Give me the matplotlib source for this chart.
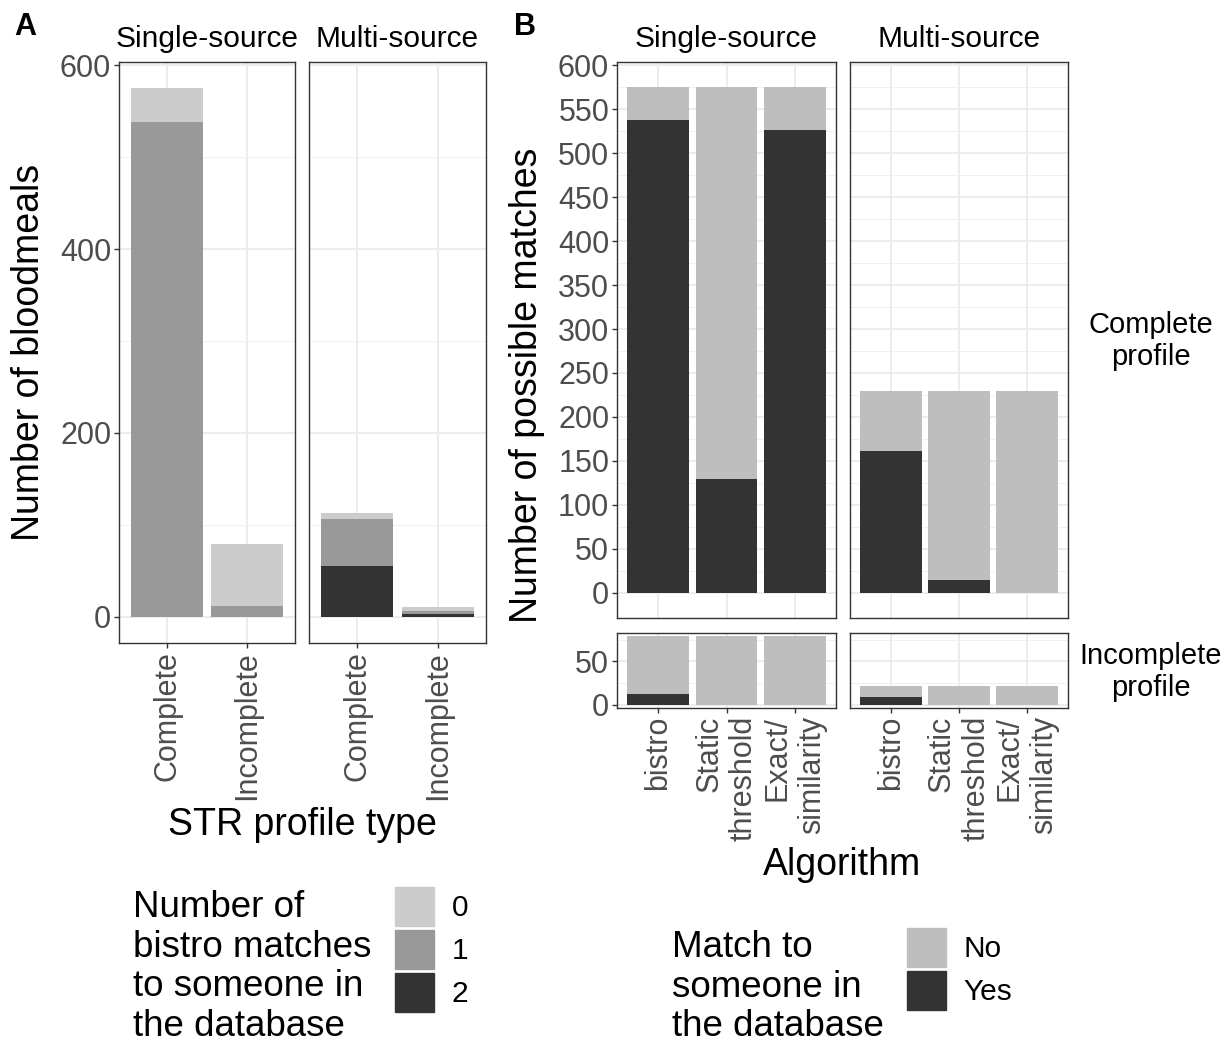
import numpy as np
import matplotlib
matplotlib.use("Agg")
import matplotlib.pyplot as plt
from matplotlib.patches import Patch

plt.rcParams['font.family'] = ['Liberation Sans', 'DejaVu Sans']

# ---- data: panel A (bloodmeals by STR profile type, stacked by no. of bistro matches)
sources = ["Single-source", "Multi-source"]
profile_types = ["Complete", "Incomplete"]
match_levels = ["0", "1", "2"]
single_counts = {"0": [37, 67], "1": [538, 12], "2": [0, 0]}
multi_counts = {"0": [7, 4], "1": [51, 3], "2": [55, 3]}

# ---- data: panel B (possible matches by algorithm)
algorithms = ["bistro", "Static\nthreshold", "Exact/\nsimilarity"]
rows = ["Complete\nprofile", "Incomplete\nprofile"]
single_complete_total = [575, 575, 575]
single_complete_yes = [538, 129, 526]
multi_complete_total = [229, 229, 229]
multi_complete_yes = [161, 15, 0]
single_incomplete_total = [79, 79, 79]
single_incomplete_yes = [12, 0, 0]
multi_incomplete_total = [22, 22, 22]
multi_incomplete_yes = [9, 0, 0]

colors_a = {"0": "#CCCCCC", "1": "#999999", "2": "#333333"}
col_no, col_yes = "#BEBEBE", "#333333"

W, H = 1232, 1043
fig = plt.figure(figsize=(W / 100, H / 100), dpi=100)


def px_axes(l, t, r, b):
    return fig.add_axes([l / W, 1 - b / H, (r - l) / W, (b - t) / H])


def style_panel(ax, n, ylim, major, minor, show_y=True, show_x=True, labels=None):
    ax.set_xlim(0.4, n + 0.6)
    ax.set_ylim(*ylim)
    ax.set_xticks(np.arange(1, n + 1))
    ax.set_yticks(major)
    ax.set_yticks(minor, minor=True)
    ax.grid(which="major", color="#EBEBEB", lw=1.3)
    ax.grid(which="minor", axis="y", color="#F0F0F0", lw=0.7)
    ax.set_axisbelow(True)
    for s in ax.spines.values():
        s.set_color("#333333")
        s.set_linewidth(1.0)
    ax.tick_params(which="major", direction="out", length=3.6, width=1.0,
                   color="#333333", labelcolor="#4D4D4D", labelsize=22, pad=2)
    ax.tick_params(which="minor", length=0)
    if not show_y:
        ax.tick_params(axis="y", left=False, labelleft=False)
    if show_x:
        ax.set_xticklabels(labels, rotation=90, ha="center", va="top",
                           multialignment="right", linespacing=1.2)
    else:
        ax.tick_params(axis="x", bottom=False, labelbottom=False)


# ---------------- Panel A ----------------
x_a = np.arange(1, len(profile_types) + 1)
a_boxes = [(119, 62, 295, 643), (309, 62, 486, 643)]
for i, (src, counts) in enumerate(zip(sources, [single_counts, multi_counts])):
    ax = px_axes(*a_boxes[i])
    bottom = np.zeros(len(profile_types))
    for lvl in ["2", "1", "0"]:
        vals = np.array(counts[lvl])
        ax.bar(x_a, vals, width=0.9, bottom=bottom, color=colors_a[lvl], linewidth=0)
        bottom += vals
    style_panel(ax, 2, (-28.75, 603.75), [0, 200, 400, 600], [100, 300, 500],
                show_y=(i == 0), labels=profile_types)
    fig.text((a_boxes[i][0] + a_boxes[i][2]) / 2 / W, 1 - 47 / H, src,
             ha="center", va="baseline", fontsize=21.5)

fig.text(29 / W, 1 - 352 / H, "Number of bloodmeals", rotation=90,
         ha="center", va="center", fontsize=27)
fig.text(302 / W, 1 - 835 / H, "STR profile type", ha="center", va="baseline",
         fontsize=27)
fig.text(14 / W, 1 - 35 / H, "A", ha="left", va="baseline", fontsize=22,
         fontweight="bold")

# ---------------- Panel B ----------------
x_b = np.arange(1, len(algorithms) + 1)
b_panels = [
    ((617, 62, 836, 618), single_complete_total, single_complete_yes, (-28.75, 603.75), True, False),
    ((850, 62, 1068, 618), multi_complete_total, multi_complete_yes, (-28.75, 603.75), False, False),
    ((617, 633, 836, 708), single_incomplete_total, single_incomplete_yes, (-3.95, 82.95), True, True),
    ((850, 633, 1068, 708), multi_incomplete_total, multi_incomplete_yes, (-3.95, 82.95), False, True),
]
for box, total, yes, ylim, show_y, show_x in b_panels:
    ax = px_axes(*box)
    yes = np.array(yes)
    no = np.array(total) - yes
    ax.bar(x_b, yes, width=0.9, color=col_yes, linewidth=0)
    ax.bar(x_b, no, width=0.9, bottom=yes, color=col_no, linewidth=0)
    if ylim[1] > 100:
        major = np.arange(0, 601, 50)
        minor = np.arange(25, 601, 50)
    else:
        major = [0, 50]
        minor = [25, 75]
    style_panel(ax, 3, ylim, major, minor, show_y=show_y, show_x=show_x,
                labels=algorithms)

for box, src in zip([(617, 836), (850, 1068)], sources):
    fig.text((box[0] + box[1]) / 2 / W, 1 - 47 / H, src, ha="center",
             va="baseline", fontsize=21.5)
fig.text(1151 / W, 1 - 341 / H, rows[0], ha="center", va="center",
         fontsize=21, linespacing=1.15)
fig.text(1151 / W, 1 - 672 / H, rows[1], ha="center", va="center",
         fontsize=21, linespacing=1.15)

fig.text(527 / W, 1 - 385 / H, "Number of possible matches", rotation=90,
         ha="center", va="center", fontsize=27)
fig.text(842 / W, 1 - 875 / H, "Algorithm", ha="center", va="baseline",
         fontsize=27)
fig.text(514 / W, 1 - 35 / H, "B", ha="left", va="baseline", fontsize=22,
         fontweight="bold")

# ---------------- Legends ----------------
fig.text(133 / W, 1 - 890 / H, "Number of\nbistro matches\nto someone in\nthe database",
         ha="left", va="top", fontsize=26.5, linespacing=1.17)
fig.legend(handles=[Patch(color=colors_a[l]) for l in match_levels],
           labels=match_levels, loc="upper left",
           bbox_to_anchor=(395 / W, 1 - 887 / H), frameon=False, borderpad=0,
           borderaxespad=0, fontsize=21.5, handlelength=1.3, handleheight=1.63,
           labelspacing=0.13, handletextpad=0.6)

fig.text(672 / W, 1 - 930 / H, "Match to\nsomeone in\nthe database",
         ha="left", va="top", fontsize=26.5, linespacing=1.17)
fig.legend(handles=[Patch(color=col_no), Patch(color=col_yes)],
           labels=["No", "Yes"], loc="upper left",
           bbox_to_anchor=(907 / W, 1 - 928 / H), frameon=False, borderpad=0,
           borderaxespad=0, fontsize=21.5, handlelength=1.3, handleheight=1.63,
           labelspacing=0.13, handletextpad=0.6)

fig.savefig("out.png", dpi=100, facecolor="white")
